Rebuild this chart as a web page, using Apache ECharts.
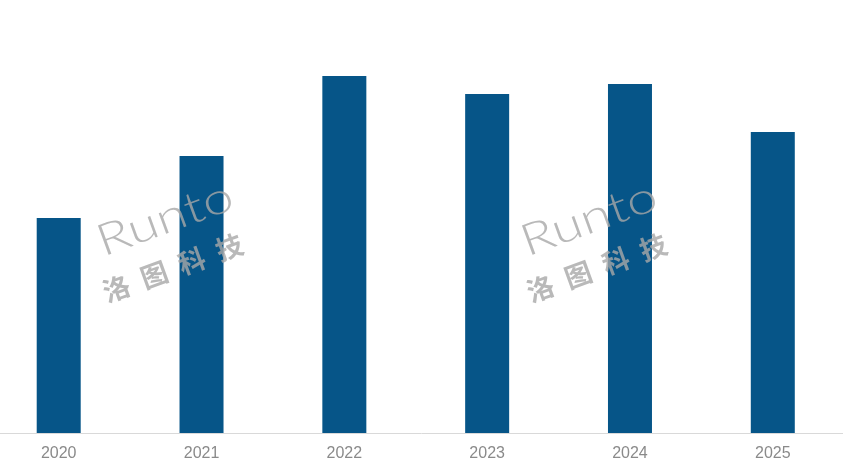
<!DOCTYPE html>
<html lang="zh-CN">
<head>
    <meta charset="UTF-8">
    <title>Runto</title>
    <script src="https://cdn.jsdelivr.net/npm/echarts@6/dist/echarts.min.js"></script>
    <style>
        html, body { margin: 0; padding: 0; background: #fff; }
        #main { width: 843px; height: 475px; }
    </style>
</head>
<body>
    <div id="main"></div>
    <script>
        // 数据（数值按图中柱高估算）
        const years = ['2020', '2021', '2022', '2023', '2024', '2025']
        const values = [215, 277, 357, 339, 349, 301]
        const yMax = 433

        // 水印
        const markColor = 'rgba(168,168,168,0.8)'
        const markChars = ['洛', '图', '科', '技']
        function mark(x, y) {
            let children = [
                {
                    type: 'text',
                    x: 0,
                    y: 0,
                    scaleX: 1.25,
                    z: 100,
                    style: {
                        text: 'Runto',
                        font: '300 44px Lato, "Noto Sans", sans-serif',
                        fill: markColor,
                        verticalAlign: 'bottom'
                    }
                }
            ]
            markChars.forEach((c, i) => {
                children.push({
                    type: 'text',
                    x: -12 + i * 40,
                    y: 40,
                    z: 100,
                    style: {
                        text: c,
                        font: 'bold 27px "Noto Sans CJK SC", sans-serif',
                        fill: markColor,
                        verticalAlign: 'bottom'
                    }
                })
            })
            return {
                type: 'group',
                x: x,
                y: y,
                rotation: 0.35,
                z: 100,
                children: children
            }
        }

        let chart = echarts.init(document.getElementById('main'))
        let option = {
            animation: false,
            grid: {
                left: -12.7,
                right: -1.2,
                top: 0,
                bottom: 42,
                containLabel: false,
                outerBoundsMode: 'none'
            },
            xAxis: {
                type: 'category',
                data: years,
                axisLine: { lineStyle: { color: '#d9d9d9', width: 1 } },
                axisTick: { show: false },
                axisLabel: {
                    color: '#8a8a8a',
                    fontSize: 16,
                    fontFamily: '"Liberation Sans", Arial, sans-serif',
                    margin: 13
                }
            },
            yAxis: {
                type: 'value',
                min: 0,
                max: yMax,
                show: false,
                splitLine: { show: false }
            },
            series: [
                {
                    type: 'bar',
                    data: values,
                    barWidth: 44,
                    itemStyle: { color: '#065588' }
                }
            ],
            graphic: {
                elements: [mark(106, 264), mark(530, 264)]
            }
        }
        chart.setOption(option)
    </script>
</body>
</html>
